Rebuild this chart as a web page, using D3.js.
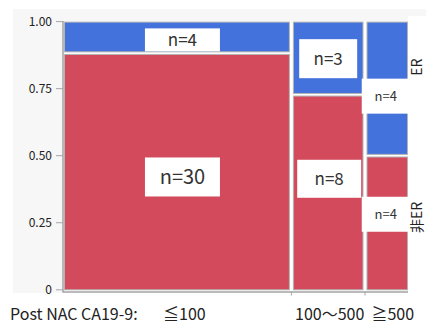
<!DOCTYPE html>
<html>
<head>
<meta charset="utf-8">
<script src="https://cdn.jsdelivr.net/npm/d3@7"></script>
<style>
  html, body { margin: 0; padding: 0; background: #ffffff; }
  svg { display: block; font-family: "Noto Sans CJK JP", "Noto Sans", sans-serif; }
</style>
</head>
<body>
<svg id="chart" width="426" height="325"></svg>
<script>
// ---- data ----
const categories = ["≦100", "100～500", "≧500"];
const xTitle = "Post NAC CA19-9:";
const columnShare = [0.661, 0.214, 0.125];   // column widths
const erCounts = [4, 3, 4];
const nonErCounts = [30, 8, 4];
const seriesNames = ["ER", "非ER"];
const yTickValues = [0, 0.25, 0.5, 0.75, 1];
const yTickLabels = ["0", "0.25", "0.50", "0.75", "1.00"];

// ---- layout ----
const W = 426, H = 325;
const svg = d3.select("#chart");
const plot = { left: 63, right: 408, top: 21.5, bottom: 291.5 };
const colors = { ER: "#4472DC", nonER: "#D24A5B" };

// background panel
svg.append("rect").attr("x", 13).attr("y", 9).attr("width", W - 13).attr("height", 284)
  .attr("fill", "#f7f7f7");
// white legend panel at right
svg.append("rect").attr("x", plot.right).attr("y", 16).attr("width", W - plot.right).attr("height", H - 16)
  .attr("fill", "#ffffff");
// white plot frame
svg.append("rect").attr("x", plot.left).attr("y", plot.top).attr("width", plot.right - plot.left)
  .attr("height", plot.bottom - plot.top).attr("fill", "#ffffff");

const y = d3.scaleLinear().domain([0, 1]).range([289.8, 21.6]);
const x = d3.scaleLinear().domain([0, 1]).range([plot.left + 1, plot.right]);

// column geometry
const cum = d3.cumsum([0, ...columnShare]);
const gap = 1.5;
const cols = categories.map((c, i) => {
  const total = erCounts[i] + nonErCounts[i];
  const x0 = x(cum[i]) + (i > 0 ? gap : 0);
  const x1 = x(cum[i + 1]) - (i < categories.length - 1 ? gap : 0);
  return { cat: c, i, x0, x1, erFrac: erCounts[i] / total, er: erCounts[i], non: nonErCounts[i] };
});

// cells
const cells = [];
cols.forEach(c => {
  const split = 1 - c.erFrac;
  cells.push({ col: c, series: "ER", n: c.er, top: 1, bottom: split });
  cells.push({ col: c, series: "nonER", n: c.non, top: split, bottom: 0 });
});

svg.append("g").selectAll("rect").data(cells).join("rect")
  .attr("x", d => d.col.x0 + 0.5)
  .attr("width", d => d.col.x1 - d.col.x0 - 1)
  .attr("y", d => y(d.top) + (d.top < 1 ? 1.3 : 0.5))
  .attr("height", d => (y(d.bottom) - (d.bottom > 0 ? 1.3 : 0)) - (y(d.top) + (d.top < 1 ? 1.3 : 0.5)))
  .attr("fill", d => colors[d.series])
  .attr("stroke", "#b4b4b4")
  .attr("stroke-width", 1);

// axes lines
const axisColor = "#a6a6a6";
svg.append("line").attr("x1", plot.left).attr("x2", plot.left).attr("y1", plot.top - 0.5).attr("y2", plot.bottom + 1)
  .attr("stroke", axisColor).attr("stroke-width", 1.6);
svg.append("line").attr("x1", plot.left).attr("x2", plot.right).attr("y1", plot.bottom + 0.5).attr("y2", plot.bottom + 0.5)
  .attr("stroke", axisColor).attr("stroke-width", 1.4);

// y ticks
const yt = svg.append("g");
yTickValues.forEach((v, i) => {
  yt.append("line").attr("x1", 56).attr("x2", plot.left).attr("y1", y(v)).attr("y2", y(v))
    .attr("stroke", axisColor).attr("stroke-width", 1);
  yt.append("text").attr("x", 52).attr("y", y(v)).attr("dy", "0.35em")
    .attr("text-anchor", "end").attr("font-size", 12).attr("fill", "#222")
    .text(yTickLabels[i]);
});

// x ticks at column boundaries
cols.slice(0, -1).forEach(c => {
  const bx = (c.x1 + cols[c.i + 1].x0) / 2;
  svg.append("line").attr("x1", bx).attr("x2", bx).attr("y1", plot.bottom).attr("y2", plot.bottom + 4)
    .attr("stroke", axisColor).attr("stroke-width", 1);
});

// x labels
svg.append("text").attr("x", 10).attr("y", 320).attr("font-size", 16).attr("fill", "#222").text(xTitle);
const xLabelNudge = [7.5, 1.5, 5.5];
cols.forEach(c => {
  svg.append("text").attr("x", (c.x0 + c.x1) / 2 + xLabelNudge[c.i]).attr("y", 320)
    .attr("text-anchor", "middle").attr("font-size", 16).attr("fill", "#222").text(c.cat);
});

// count labels
const labelStyle = [
  { ER: { dx: 5.5, dy: 2.5, w: 75, h: 23, fs: 17 }, nonER: { dx: 5.5, dy: 5.5, w: 75, h: 39, fs: 20 } },
  { ER: { dx: 0, dy: 0.5, w: 58, h: 39, fs: 17 }, nonER: { dx: 1, dy: -13.5, w: 64, h: 38, fs: 17 } },
  { ER: { dx: -1.5, dy: 7.5, w: 48, h: 35, fs: 13 }, nonER: { dx: -1.5, dy: -8.5, w: 48, h: 35, fs: 13 } }
];
const lg = svg.append("g");
cells.forEach(d => {
  const s = labelStyle[d.col.i][d.series];
  const cx = (d.col.x0 + d.col.x1) / 2 + s.dx;
  const cy = (y(d.top) + y(d.bottom)) / 2 + s.dy;
  lg.append("rect").attr("x", cx - s.w / 2).attr("y", cy - s.h / 2).attr("width", s.w).attr("height", s.h)
    .attr("fill", "#ffffff");
  lg.append("text").attr("x", cx).attr("y", cy).attr("dy", "0.36em").attr("text-anchor", "middle")
    .attr("font-size", s.fs).attr("fill", "#333").text("n=" + d.n);
});

// series labels at right (rotated)
const legendPos = [0.83, 0.27];
seriesNames.forEach((name, i) => {
  svg.append("text")
    .attr("transform", `translate(422,${y(legendPos[i])}) rotate(-90)`)
    .attr("text-anchor", "middle").attr("font-size", 14).attr("fill", "#222")
    .text(name);
});
</script>
</body>
</html>
